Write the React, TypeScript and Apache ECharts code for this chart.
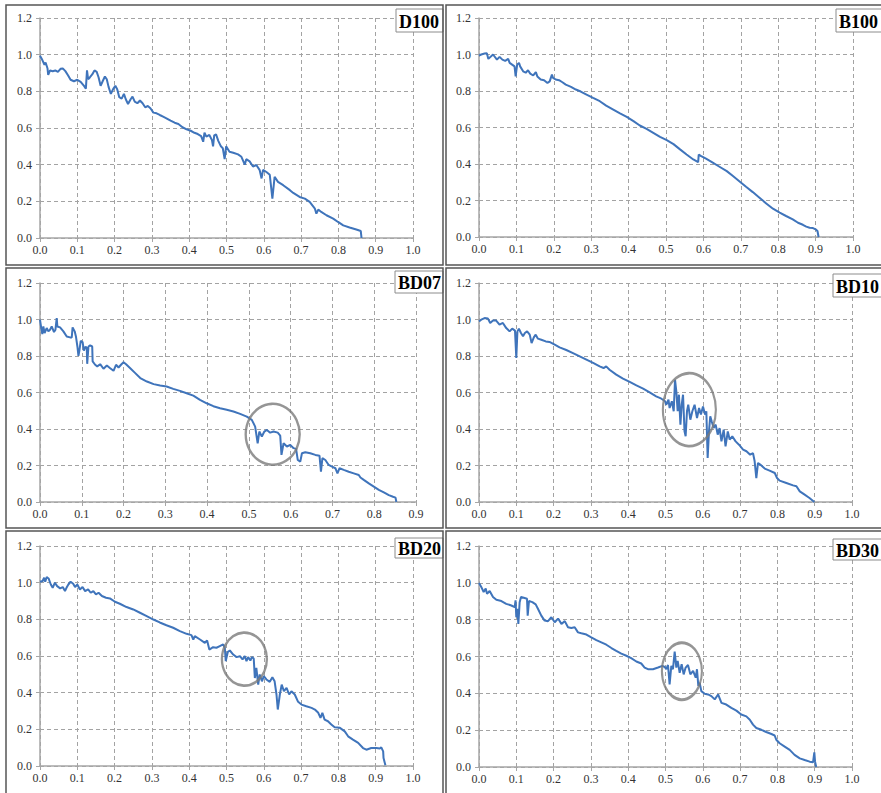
import React, { useEffect, useRef } from "react";
import * as echarts from "echarts";

// ---------- data ----------
const panelNames = ["D100", "B100", "BD07", "BD10", "BD20", "BD30"];
const xMaxValues = [1.0, 1.0, 0.9, 1.0, 1.0, 1.0];
const yMaxValue = 1.2;
const yStep = 0.2;
const xStep = 0.1;

const d100: number[][] = [
  [0, 0.994], [0.006, 0.972], [0.012, 0.945], [0.015, 0.957], [0.02, 0.926], [0.022, 0.89],
  [0.027, 0.914], [0.034, 0.91], [0.041, 0.914], [0.048, 0.906], [0.055, 0.923], [0.061, 0.925],
  [0.068, 0.91], [0.075, 0.888], [0.082, 0.863], [0.091, 0.855], [0.1, 0.863], [0.109, 0.852],
  [0.118, 0.83], [0.123, 0.815], [0.126, 0.914], [0.129, 0.866], [0.134, 0.877], [0.14, 0.892],
  [0.146, 0.914], [0.152, 0.906], [0.157, 0.877], [0.1625, 0.83], [0.168, 0.855], [0.174, 0.881],
  [0.179, 0.866], [0.184, 0.823], [0.19, 0.786], [0.196, 0.812], [0.202, 0.83], [0.207, 0.812],
  [0.2125, 0.768], [0.219, 0.76], [0.225, 0.786], [0.23, 0.757], [0.236, 0.731], [0.243, 0.757],
  [0.248, 0.771], [0.254, 0.744], [0.261, 0.735], [0.268, 0.75], [0.275, 0.735], [0.282, 0.713],
  [0.289, 0.72], [0.296, 0.708], [0.304, 0.684], [0.3125, 0.68], [0.321, 0.671], [0.33, 0.662],
  [0.339, 0.653], [0.35, 0.64], [0.361, 0.629], [0.371, 0.622], [0.382, 0.604], [0.393, 0.593],
  [0.404, 0.585], [0.414, 0.574], [0.423, 0.567], [0.432, 0.556], [0.4375, 0.525], [0.441, 0.574],
  [0.446, 0.553], [0.454, 0.562], [0.461, 0.534], [0.464, 0.5], [0.467, 0.56], [0.472, 0.565],
  [0.478, 0.53], [0.485, 0.5], [0.49, 0.49], [0.495, 0.43], [0.499, 0.5], [0.508, 0.47],
  [0.518, 0.465], [0.531, 0.456], [0.54, 0.443], [0.549, 0.4], [0.553, 0.43], [0.562, 0.418],
  [0.571, 0.39], [0.58, 0.398], [0.589, 0.37], [0.594, 0.325], [0.598, 0.372], [0.607, 0.36],
  [0.616, 0.345], [0.623, 0.215], [0.629, 0.334], [0.638, 0.306], [0.652, 0.288], [0.67, 0.261],
  [0.679, 0.246], [0.696, 0.224], [0.71, 0.215], [0.723, 0.197], [0.737, 0.16], [0.741, 0.133],
  [0.746, 0.155], [0.754, 0.142], [0.768, 0.124], [0.786, 0.106], [0.799, 0.0875], [0.813, 0.069],
  [0.83, 0.057], [0.848, 0.046], [0.86, 0.038], [0.862, 0.0],
];

const b100: number[][] = [
  [0, 0.994], [0.006, 1.0], [0.015, 1.005], [0.021, 1.007], [0.025, 0.976], [0.0375, 1.0],
  [0.048, 0.972], [0.055, 0.987], [0.0625, 0.972], [0.07, 0.965], [0.078, 0.976], [0.082, 0.954],
  [0.095, 0.935], [0.098, 0.88], [0.102, 0.945], [0.107, 0.954], [0.11, 0.935], [0.118, 0.908],
  [0.125, 0.9], [0.131, 0.914], [0.137, 0.895], [0.145, 0.885], [0.152, 0.903], [0.156, 0.88],
  [0.165, 0.863], [0.174, 0.859], [0.183, 0.844], [0.189, 0.853], [0.195, 0.89], [0.198, 0.872],
  [0.205, 0.863], [0.214, 0.859], [0.223, 0.848], [0.232, 0.835], [0.246, 0.823], [0.259, 0.808],
  [0.272, 0.797], [0.2875, 0.78], [0.305, 0.762], [0.323, 0.744], [0.34, 0.72], [0.359, 0.698],
  [0.377, 0.677], [0.395, 0.658], [0.413, 0.635], [0.43, 0.611], [0.448, 0.593], [0.466, 0.571],
  [0.484, 0.549], [0.502, 0.531], [0.52, 0.509], [0.5375, 0.48], [0.555, 0.452], [0.573, 0.425],
  [0.586, 0.41], [0.5875, 0.452], [0.594, 0.443], [0.607, 0.429], [0.625, 0.407], [0.643, 0.385],
  [0.6625, 0.361], [0.679, 0.334], [0.696, 0.306], [0.714, 0.275], [0.732, 0.246], [0.75, 0.215],
  [0.768, 0.184], [0.786, 0.155], [0.804, 0.133], [0.821, 0.115], [0.839, 0.097], [0.853, 0.078],
  [0.866, 0.067], [0.875, 0.057], [0.884, 0.051], [0.893, 0.049], [0.9, 0.042], [0.905, 0.033],
  [0.908, 0.0],
];

const bd07: number[][] = [
  [0, 0.999], [0.003, 0.953], [0.0056, 0.92], [0.008, 0.962], [0.011, 0.926], [0.016, 0.953],
  [0.02, 0.935], [0.024, 0.944], [0.028, 0.962], [0.0335, 0.931], [0.037, 0.944], [0.04, 1.008],
  [0.0415, 0.962], [0.048, 0.957], [0.056, 0.935], [0.064, 0.907], [0.072, 0.902], [0.076, 0.902],
  [0.078, 0.957], [0.083, 0.935], [0.086, 0.907], [0.0895, 0.852], [0.092, 0.801], [0.094, 0.825],
  [0.0975, 0.883], [0.102, 0.876], [0.105, 0.829], [0.109, 0.852], [0.112, 0.843], [0.113, 0.757],
  [0.116, 0.852], [0.12, 0.858], [0.125, 0.852], [0.126, 0.77], [0.132, 0.752], [0.137, 0.743],
  [0.144, 0.755], [0.152, 0.73], [0.16, 0.748], [0.168, 0.733], [0.176, 0.719], [0.182, 0.752],
  [0.188, 0.737], [0.195, 0.755], [0.2, 0.766], [0.206, 0.755], [0.216, 0.733], [0.228, 0.706],
  [0.24, 0.679], [0.256, 0.66], [0.272, 0.646], [0.2875, 0.638], [0.303, 0.633], [0.319, 0.62],
  [0.335, 0.609], [0.351, 0.596], [0.367, 0.583], [0.383, 0.56], [0.399, 0.541], [0.415, 0.525],
  [0.431, 0.514], [0.447, 0.505], [0.463, 0.496], [0.479, 0.483], [0.495, 0.468], [0.507, 0.45],
  [0.515, 0.413], [0.521, 0.322], [0.525, 0.386], [0.531, 0.359], [0.537, 0.386], [0.543, 0.395],
  [0.551, 0.38], [0.559, 0.386], [0.569, 0.38], [0.575, 0.364], [0.578, 0.258], [0.583, 0.322],
  [0.591, 0.304], [0.599, 0.313], [0.607, 0.295], [0.613, 0.291], [0.617, 0.23], [0.623, 0.221],
  [0.627, 0.267], [0.635, 0.273], [0.647, 0.267], [0.659, 0.258], [0.669, 0.254], [0.6725, 0.166],
  [0.676, 0.24], [0.683, 0.23], [0.691, 0.203], [0.699, 0.194], [0.707, 0.185], [0.712, 0.157],
  [0.717, 0.185], [0.727, 0.176], [0.739, 0.166], [0.751, 0.157], [0.763, 0.148], [0.767, 0.134],
  [0.775, 0.121], [0.787, 0.102], [0.799, 0.084], [0.811, 0.066], [0.823, 0.053], [0.835, 0.038],
  [0.845, 0.029], [0.851, 0.024], [0.853, 0.0],
];

const bd10: number[][] = [
  [0, 0.99], [0.006, 0.999], [0.015, 1.008], [0.024, 1.005], [0.03, 0.981], [0.0375, 0.994],
  [0.046, 0.994], [0.055, 0.972], [0.064, 0.981], [0.073, 0.953], [0.082, 0.935], [0.089, 0.95],
  [0.0965, 0.939], [0.1, 0.789], [0.103, 0.935], [0.107, 0.95], [0.1125, 0.926], [0.118, 0.908],
  [0.123, 0.926], [0.129, 0.935], [0.136, 0.917], [0.141, 0.871], [0.147, 0.902], [0.152, 0.917],
  [0.158, 0.895], [0.167, 0.889], [0.179, 0.88], [0.189, 0.877], [0.203, 0.862], [0.216, 0.847],
  [0.234, 0.833], [0.252, 0.816], [0.27, 0.798], [0.288, 0.78], [0.306, 0.762], [0.3235, 0.743],
  [0.334, 0.734], [0.341, 0.743], [0.35, 0.725], [0.368, 0.698], [0.386, 0.676], [0.404, 0.658],
  [0.422, 0.639], [0.44, 0.621], [0.4575, 0.601], [0.475, 0.579], [0.489, 0.566], [0.499, 0.552],
  [0.502, 0.533], [0.508, 0.561], [0.511, 0.515], [0.517, 0.552], [0.522, 0.497], [0.5255, 0.67],
  [0.529, 0.606], [0.5326, 0.497], [0.536, 0.588], [0.54, 0.424], [0.5434, 0.533], [0.547, 0.588],
  [0.551, 0.387], [0.554, 0.36], [0.5576, 0.497], [0.561, 0.533], [0.5666, 0.451], [0.572, 0.497],
  [0.578, 0.533], [0.5845, 0.46], [0.59, 0.515], [0.595, 0.479], [0.6005, 0.524], [0.606, 0.479],
  [0.6095, 0.497], [0.613, 0.241], [0.6166, 0.387], [0.62, 0.47], [0.6238, 0.442], [0.629, 0.405],
  [0.6345, 0.424], [0.64, 0.369], [0.645, 0.405], [0.65, 0.332], [0.656, 0.396], [0.661, 0.305],
  [0.667, 0.387], [0.672, 0.342], [0.679, 0.36], [0.688, 0.332], [0.697, 0.314], [0.708, 0.287],
  [0.717, 0.278], [0.727, 0.259], [0.7346, 0.268], [0.739, 0.223], [0.7435, 0.131], [0.748, 0.214],
  [0.754, 0.205], [0.766, 0.183], [0.779, 0.172], [0.793, 0.159], [0.799, 0.1315], [0.806, 0.117],
  [0.824, 0.104], [0.842, 0.091], [0.851, 0.086], [0.86, 0.058], [0.873, 0.04], [0.886, 0.022],
  [0.899, 0.0],
];

const bd20: number[][] = [
  [0, 1.005], [0.007, 1.009], [0.011, 1.027], [0.014, 1.005], [0.018, 1.03], [0.023, 1.023],
  [0.029, 0.99], [0.034, 0.972], [0.04, 1.0], [0.046, 0.981], [0.054, 0.969], [0.061, 0.976],
  [0.067, 0.954], [0.071, 0.972], [0.076, 0.99], [0.082, 1.005], [0.089, 0.994], [0.094, 0.976],
  [0.1, 0.99], [0.107, 0.963], [0.114, 0.976], [0.121, 0.954], [0.129, 0.963], [0.136, 0.945],
  [0.143, 0.954], [0.15, 0.936], [0.157, 0.945], [0.166, 0.927], [0.177, 0.918], [0.1875, 0.914],
  [0.201, 0.896], [0.214, 0.885], [0.232, 0.867], [0.25, 0.854], [0.268, 0.836], [0.286, 0.818],
  [0.304, 0.799], [0.321, 0.783], [0.339, 0.768], [0.357, 0.754], [0.375, 0.736], [0.393, 0.721],
  [0.406, 0.714], [0.411, 0.69], [0.415, 0.708], [0.429, 0.69], [0.442, 0.672], [0.448, 0.685],
  [0.454, 0.635], [0.464, 0.648], [0.473, 0.645], [0.482, 0.654], [0.491, 0.663], [0.4955, 0.645],
  [0.498, 0.572], [0.5036, 0.623], [0.509, 0.63], [0.518, 0.608], [0.527, 0.594], [0.536, 0.599],
  [0.543, 0.581], [0.549, 0.599], [0.5536, 0.572], [0.558, 0.594], [0.564, 0.575], [0.568, 0.594],
  [0.573, 0.586], [0.576, 0.48], [0.58, 0.535], [0.585, 0.444], [0.589, 0.499], [0.595, 0.462],
  [0.6, 0.49], [0.607, 0.472], [0.616, 0.459], [0.623, 0.484], [0.629, 0.462], [0.634, 0.39],
  [0.6375, 0.308], [0.643, 0.39], [0.648, 0.444], [0.654, 0.408], [0.661, 0.426], [0.668, 0.39],
  [0.674, 0.408], [0.683, 0.39], [0.692, 0.35], [0.701, 0.335], [0.714, 0.326], [0.728, 0.317],
  [0.737, 0.308], [0.746, 0.29], [0.752, 0.262], [0.757, 0.29], [0.763, 0.253], [0.772, 0.244],
  [0.781, 0.226], [0.79, 0.211], [0.804, 0.208], [0.817, 0.189], [0.826, 0.162], [0.839, 0.144],
  [0.853, 0.126], [0.866, 0.098], [0.875, 0.089], [0.888, 0.098], [0.902, 0.098], [0.911, 0.095],
  [0.915, 0.102], [0.92, 0.08], [0.921, 0.044], [0.926, 0.004],
];

const bd30: number[][] = [
  [0, 0.9995], [0.006, 0.978], [0.0125, 0.95], [0.018, 0.969], [0.0215, 0.941], [0.0286, 0.956],
  [0.0375, 0.923], [0.0465, 0.908], [0.06, 0.901], [0.073, 0.886], [0.0867, 0.877], [0.0956, 0.868],
  [0.098, 0.905], [0.1, 0.813], [0.103, 0.859], [0.1055, 0.777], [0.109, 0.895], [0.1126, 0.923],
  [0.12, 0.919], [0.1287, 0.914], [0.1305, 0.822], [0.134, 0.901], [0.143, 0.895], [0.152, 0.883],
  [0.158, 0.859], [0.167, 0.822], [0.176, 0.795], [0.185, 0.792], [0.194, 0.813], [0.203, 0.786],
  [0.212, 0.806], [0.221, 0.777], [0.23, 0.792], [0.2386, 0.759], [0.2475, 0.755], [0.2565, 0.759],
  [0.2654, 0.731], [0.2743, 0.726], [0.288, 0.719], [0.301, 0.704], [0.3146, 0.689], [0.328, 0.677],
  [0.3414, 0.664], [0.355, 0.646], [0.368, 0.631], [0.3816, 0.616], [0.395, 0.604], [0.408, 0.591],
  [0.4218, 0.573], [0.435, 0.562], [0.444, 0.54], [0.453, 0.531], [0.4665, 0.531], [0.48, 0.54],
  [0.4915, 0.549], [0.498, 0.543], [0.502, 0.531], [0.5067, 0.554], [0.511, 0.449], [0.5156, 0.549],
  [0.52, 0.531], [0.5246, 0.627], [0.529, 0.54], [0.5326, 0.576], [0.538, 0.512], [0.5433, 0.558],
  [0.5487, 0.503], [0.554, 0.54], [0.5603, 0.554], [0.5666, 0.503], [0.574, 0.522], [0.581, 0.485],
  [0.5844, 0.531], [0.588, 0.44], [0.5916, 0.458], [0.596, 0.412], [0.605, 0.398], [0.614, 0.394],
  [0.623, 0.385], [0.632, 0.367], [0.641, 0.394], [0.65, 0.348], [0.663, 0.339], [0.6765, 0.321],
  [0.69, 0.306], [0.703, 0.285], [0.7167, 0.275], [0.726, 0.257], [0.7346, 0.23], [0.7435, 0.2116],
  [0.757, 0.202], [0.77, 0.19], [0.784, 0.179], [0.7927, 0.171], [0.797, 0.148], [0.806, 0.129],
  [0.8195, 0.111], [0.833, 0.093], [0.846, 0.066], [0.86, 0.047], [0.873, 0.038], [0.8865, 0.029],
  [0.8955, 0.0255], [0.899, 0.08], [0.901, 0.029], [0.904, 0.0],
];

const seriesData = [d100, b100, bd07, bd10, bd20, bd30];

// highlighted (circled) regions: [panelIndex, centerX, centerY]
const circleCenters: number[][] = [
  [2, 0.557, 0.371],
  [3, 0.564, 0.506],
  [4, 0.548, 0.583],
  [5, 0.544, 0.52],
];

// ---------- layout ----------
const FONT = "'Liberation Serif', 'Times New Roman', serif";
const LINE_COLOR = "#3f74bb";
const AXIS_COLOR = "#a6a6a6";
const GRID_COLOR = "#a3a3a3";

const gridBoxes = [
  { left: 40, top: 18, width: 373, height: 220 },
  { left: 479, top: 18, width: 374, height: 219 },
  { left: 40, top: 283, width: 376, height: 219 },
  { left: 479, top: 283, width: 373, height: 219 },
  { left: 40, top: 546, width: 373, height: 220 },
  { left: 479, top: 546, width: 373, height: 221 },
];

const panelFrames = [
  { x: 6, y: 5, w: 437, h: 260 },
  { x: 446, y: 5, w: 440, h: 260 },
  { x: 6, y: 268, w: 437, h: 260 },
  { x: 446, y: 268, w: 440, h: 260 },
  { x: 6, y: 531, w: 437, h: 280 },
  { x: 446, y: 531, w: 440, h: 280 },
];

const titleBoxes = [
  { x: 396, y: 9, w: 47, h: 23 },
  { x: 836, y: 9, w: 50, h: 23 },
  { x: 395, y: 271, w: 48, h: 22 },
  { x: 833, y: 274, w: 53, h: 23 },
  { x: 395, y: 538, w: 48, h: 20 },
  { x: 833, y: 539, w: 53, h: 21 },
];

const circleSizes = [
  [54, 61],
  [53, 73],
  [45, 53],
  [40, 57],
];

export default function App() {
  const ref = useRef<HTMLDivElement>(null);

  useEffect(() => {
    document.body.style.margin = "0";
    if (!ref.current) return;
    const chart = echarts.init(ref.current, undefined, { renderer: "svg" });

    const fmt = (v: number) => v.toFixed(1);

    const grid = gridBoxes.map((g) => ({ ...g, outerBoundsMode: "none", containLabel: false }));

    const xAxis = xMaxValues.map((mx, i) => ({
      type: "value",
      gridIndex: i,
      min: 0,
      max: mx,
      interval: xStep,
      axisLine: { show: true, onZero: false, lineStyle: { color: AXIS_COLOR, width: 1.5 } },
      axisTick: { show: true, length: 4, lineStyle: { color: AXIS_COLOR } },
      axisLabel: {
        formatter: fmt,
        fontFamily: FONT,
        fontSize: 12,
        color: "#333",
        margin: 6,
        showMinLabel: true,
        showMaxLabel: true,
        hideOverlap: false,
      },
      splitLine: { show: true, lineStyle: { type: [4, 3], color: GRID_COLOR, width: 1 } },
    }));

    const yAxis = panelNames.map((_, i) => ({
      type: "value",
      gridIndex: i,
      min: 0,
      max: yMaxValue,
      interval: yStep,
      axisLine: { show: true, onZero: false, lineStyle: { color: AXIS_COLOR, width: 1.5 } },
      axisTick: { show: true, length: 4, lineStyle: { color: AXIS_COLOR } },
      axisLabel: {
        formatter: fmt,
        fontFamily: FONT,
        fontSize: 12,
        color: "#333",
        margin: 8,
        showMinLabel: true,
        showMaxLabel: true,
        hideOverlap: false,
      },
      splitLine: { show: true, lineStyle: { type: [4, 3], color: GRID_COLOR, width: 1 } },
    }));

    const lineSeries = seriesData.map((d, i) => ({
      type: "line",
      name: panelNames[i],
      xAxisIndex: i,
      yAxisIndex: i,
      data: d,
      showSymbol: false,
      symbol: "none",
      clip: false,
      lineStyle: { color: LINE_COLOR, width: 2 },
      z: 2,
    }));

    const circleSeries = circleCenters.map((c, k) => ({
      type: "scatter",
      xAxisIndex: c[0],
      yAxisIndex: c[0],
      data: [[c[1], c[2]]],
      symbol: "circle",
      symbolSize: circleSizes[k],
      silent: true,
      itemStyle: { color: "rgba(0,0,0,0)", borderColor: "#7a7a7a", borderWidth: 2.5 },
      z: 4,
    }));

    const graphic: any[] = [];
    panelFrames.forEach((f) => {
      graphic.push({
        type: "rect",
        shape: { x: f.x, y: f.y, width: f.w, height: f.h },
        style: { fill: "none", stroke: "#555", lineWidth: 1.5 },
        silent: true,
        z: 10,
      });
    });
    titleBoxes.forEach((b, i) => {
      graphic.push({
        type: "rect",
        shape: { x: b.x, y: b.y, width: b.w, height: b.h },
        style: { fill: "#fff", stroke: "#8c8c8c", lineWidth: 1 },
        silent: true,
        z: 9,
      });
      graphic.push({
        type: "text",
        x: b.x + 3,
        y: b.y + b.h / 2 + 1,
        style: {
          text: panelNames[i],
          fontFamily: FONT,
          fontWeight: "bold",
          fontSize: 18,
          fill: "#000",
          align: "left",
          verticalAlign: "middle",
        },
        silent: true,
        z: 9,
      });
    });

    chart.setOption({
      animation: false,
      grid,
      xAxis,
      yAxis,
      series: [...lineSeries, ...circleSeries],
      graphic,
    } as any);

    return () => chart.dispose();
  }, []);

  return (
    <div
      ref={ref}
      style={{ position: "absolute", left: 0, top: 0, width: 881, height: 793, background: "#fff" }}
    />
  );
}
